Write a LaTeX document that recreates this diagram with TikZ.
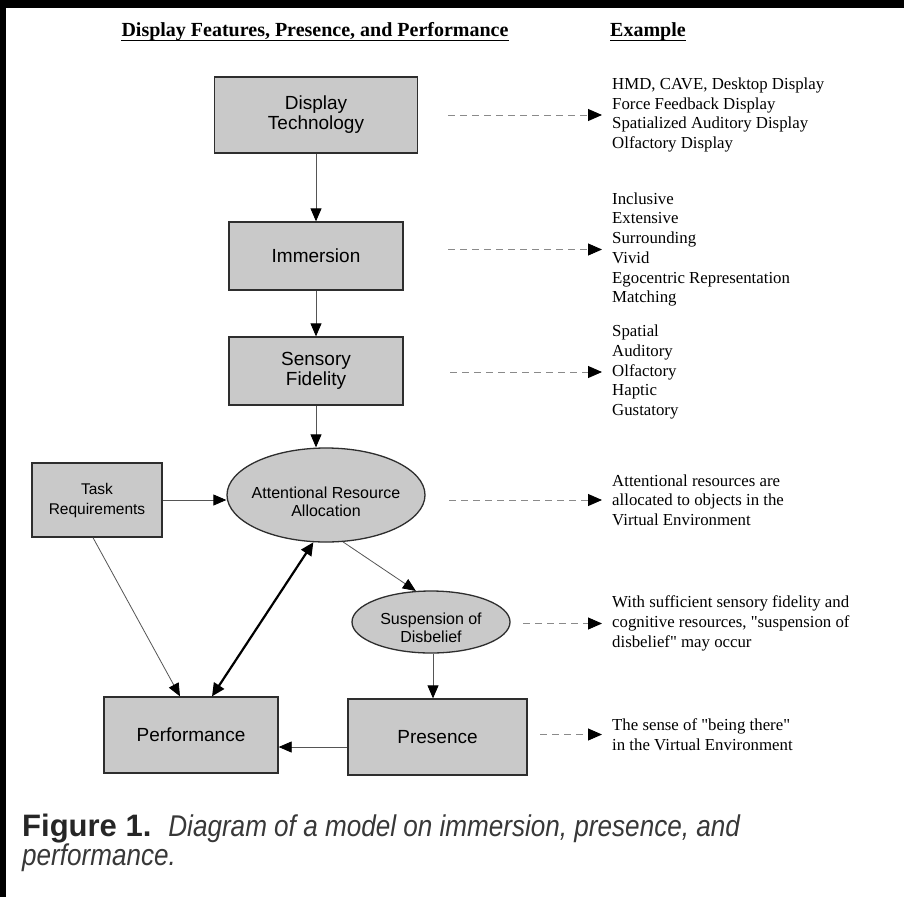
\documentclass[tikz,border=0pt]{standalone}
\usepackage{fontspec}
\setmainfont{Liberation Serif}
\setsansfont{Liberation Sans}
% plain family (no TeX mapping) so that " stays a straight quote
\newfontfamily\exfont{Liberation Serif}
\newfontfamily\capnarrow[FakeStretch=0.87]{Liberation Sans}
\usetikzlibrary{arrows.meta,shapes.geometric}
\definecolor{boxgray}{HTML}{C9C9C9}
\definecolor{edgegray}{HTML}{2E2E2E}
\definecolor{linegray}{HTML}{555555}
\definecolor{dashgray}{HTML}{8A8A8A}
\tikzset{
  headtext/.style={inner sep=0pt, anchor=base, font=\rmfamily\bfseries\fontsize{20}{22}\selectfont},
  box/.style={rectangle, draw=edgegray, line width=1.3pt, fill=boxgray, align=center, inner sep=0pt,
    font=\sffamily\fontsize{19}{20}\selectfont},
  smallbox/.style={box, font=\sffamily\fontsize{15.5}{20}\selectfont},
  oval/.style={ellipse, draw=edgegray, line width=1.3pt, fill=boxgray, inner sep=0pt},
  ovaltext/.style={align=center, inner sep=0pt, font=\sffamily\fontsize{16}{18.5}\selectfont},
  example/.style={anchor=west, align=left, inner sep=0pt, font=\exfont\fontsize{16.8}{19.7}\selectfont},
  flow/.style={draw=linegray, line width=0.8pt, -{Triangle[length=13pt,width=11pt,color=black]}},
  twoway/.style={draw=black, line width=2.2pt, {Triangle[length=13pt,width=12pt]}-{Triangle[length=13pt,width=12pt]}},
  dasharrow/.style={draw=dashgray, line width=0.9pt, dash pattern=on 6.5pt off 5.5pt,
    -{Triangle[length=14pt,width=12pt,color=black]}},
  captext/.style={anchor=base west, inner sep=0pt, text=black!85, font=\sffamily\fontsize{30}{34}\selectfont}
}
\newcommand{\captionbody}[1]{{\capnarrow\itshape\color{black!78}#1}}
\begin{document}
\begin{tikzpicture}[x=1pt,y=-1pt]
  \useasboundingbox (0,0) rectangle (904,897);
  \fill[white] (0,0) rectangle (904,897);
  % dark frame edges
  \fill[black] (0,0) rectangle (904,8);
  \fill[black] (0,0) rectangle (6,897);

  % column headings
  \node[headtext] (hd1) at (315,36) {Display Features, Presence, and Performance};
  \node[headtext] (hd2) at (648,36) {Example};
  \draw[line width=1.8pt] ([yshift=-4.5pt]hd1.base west) -- ([yshift=-4.5pt]hd1.base east);
  \draw[line width=1.8pt] ([yshift=-4.5pt]hd2.base west) -- ([yshift=-4.5pt]hd2.base east);

  % model chain
  \node[box, minimum width=203pt, minimum height=76pt] (dt) at (316,115) {Display\\Technology};
  \node[box, minimum width=174pt, minimum height=68pt] (imm) at (316,256) {Immersion};
  \node[box, minimum width=174pt, minimum height=68pt] (sens) at (316,371) {Sensory\\Fidelity};
  \node[smallbox, minimum width=130pt, minimum height=74pt] (task) at (97,500) {Task\\Requirements};
  \node[oval, minimum width=198pt, minimum height=94pt] (att) at (326,495) {};
  \node[ovaltext] (attlbl) at (326,502) {Attentional Resource\\Allocation};
  \node[oval, minimum width=158pt, minimum height=62pt] (sus) at (431,622) {};
  \node[ovaltext] (suslbl) at (431,628) {Suspension of\\Disbelief};
  \node[box, minimum width=174pt, minimum height=76pt] (perf) at (191,735) {Performance};
  \node[box, minimum width=179pt, minimum height=76pt] (pres) at (437.5,737) {Presence};

  % solid connectors
  \draw[flow] (dt.south) -- (imm.north);
  \draw[flow] (imm.south) -- (sens.north);
  \draw[flow] (sens.south) -- (sens.south |- att.north);
  \draw[flow] (task.east) -- (att.west |- task.east);
  \draw[flow] (att.-70) -- (sus.116);
  \draw[flow] ([xshift=2pt]sus.south) -- ([xshift=2pt]sus.south |- pres.north);
  \draw[flow] ([yshift=-10pt]pres.west) -- ([yshift=-10pt]pres.west -| perf.east);
  \draw[flow] ([xshift=-4pt]task.south) -- ([xshift=-11pt]perf.north);
  \draw[twoway] ([xshift=21pt]perf.north) -- (att.-105);

  % examples
  \node[example] (ex1) at (612,115) {HMD, CAVE, Desktop Display\\Force Feedback Display\\Spatialized Auditory Display\\Olfactory Display};
  \node[example] (ex2) at (612,249.5) {Inclusive\\Extensive\\Surrounding\\Vivid\\Egocentric Representation\\Matching};
  \node[example] (ex3) at (612,372) {Spatial\\Auditory\\Olfactory\\Haptic\\Gustatory};
  \node[example] (ex4) at (612,500) {Attentional resources are\\allocated to objects in the\\Virtual Environment};
  \node[example] (ex5) at (612,623.5) {With sufficient sensory fidelity and\\cognitive resources, "suspension of\\disbelief" may occur};
  \node[example] (ex6) at (612,734.5) {The sense of "being there"\\in the Virtual Environment};

  % dashed pointers to examples
  \draw[dasharrow] ([xshift=-164pt]ex1.west) -- ([xshift=-10pt]ex1.west);
  \draw[dasharrow] ([xshift=-164pt]ex2.west) -- ([xshift=-10pt]ex2.west);
  \draw[dasharrow] ([xshift=-162pt]ex3.west) -- ([xshift=-10pt]ex3.west);
  \draw[dasharrow] ([xshift=-163pt]ex4.west) -- ([xshift=-10pt]ex4.west);
  \draw[dasharrow] ([xshift=-89pt]ex5.west) -- ([xshift=-10pt]ex5.west);
  \draw[dasharrow] ([xshift=-72pt]ex6.west) -- ([xshift=-10pt]ex6.west);

  % caption
  \node[captext] (cap1) at (22,836) {{\fontsize{31}{34}\selectfont\bfseries Figure 1.}\hspace{17pt}\captionbody{Diagram of a model on immersion, presence, and}};
  \node[captext] (cap2) at (22,865) {\captionbody{performance.}};
\end{tikzpicture}
\end{document}
